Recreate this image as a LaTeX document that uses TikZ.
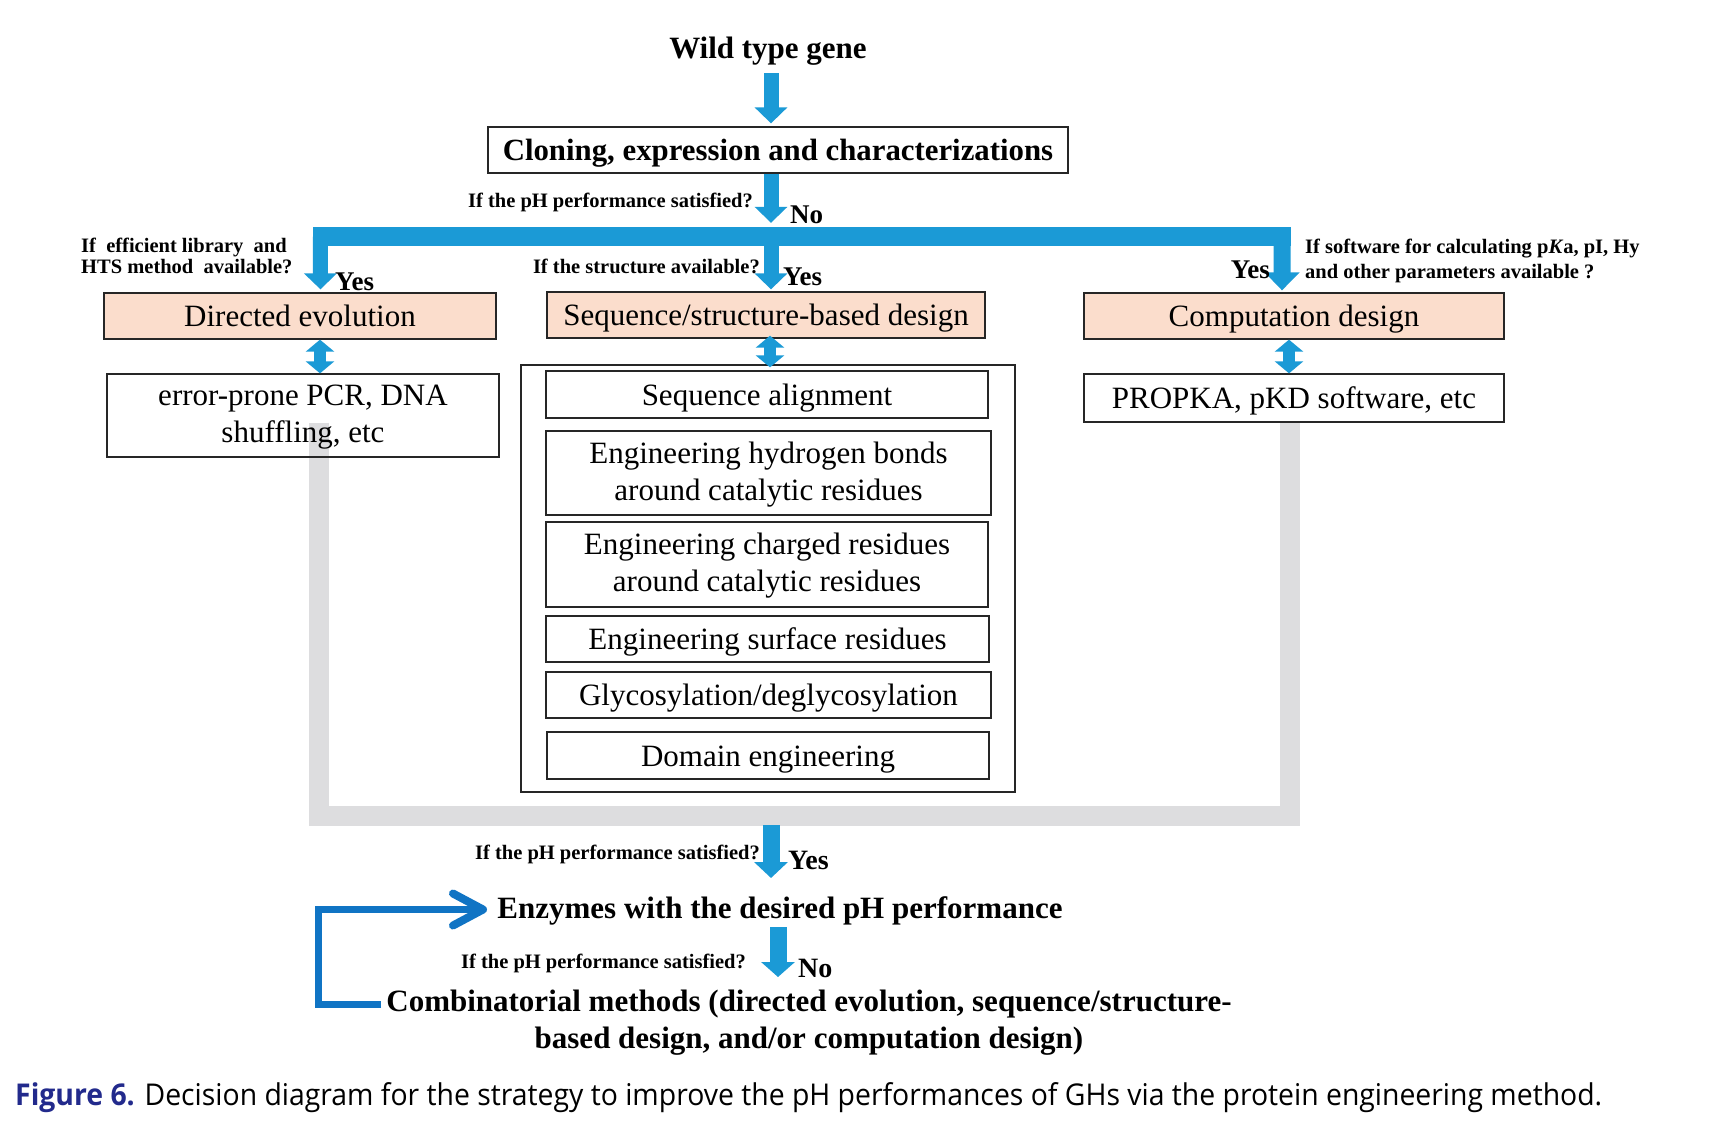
\documentclass[tikz,border=0pt]{standalone}
\usepackage{fontspec}
\usepackage{graphicx}
\setmainfont{Liberation Serif}
\newfontfamily\capfont{Open Sans}
\usetikzlibrary{arrows.meta,backgrounds}
\definecolor{bblue}{RGB}{27,154,214}
\definecolor{dblue}{RGB}{16,116,196}
\definecolor{peach}{RGB}{251,221,204}
\definecolor{lgray}{RGB}{221,221,223}
\definecolor{capblue}{RGB}{34,42,140}
\newcommand{\fstrut}{\rule{0pt}{24pt}}
\tikzset{
  bx/.style={draw=black!85, line width=1.3pt, inner sep=0pt, align=center, font=\fontsize{31}{37}\selectfont},
  sl/.style={text height=21pt, text depth=0pt},
  blk/.style={draw=bblue, line width=15pt, -{Triangle[width=32pt,length=16pt]}},
  dbl/.style={draw=bblue, line width=12pt, {Triangle[width=28pt,length=12pt]}-{Triangle[width=28pt,length=12pt]}},
  q/.style={inner sep=0pt, font=\fontsize{20.5}{21}\selectfont\bfseries},
  yn/.style={inner sep=0pt, font=\fontsize{27}{30}\selectfont\bfseries},
  big/.style={inner sep=0pt, font=\fontsize{31}{37}\selectfont\bfseries},
}
\begin{document}
\begin{tikzpicture}[x=1pt,y=-1pt,line join=miter]
\useasboundingbox (0,0) rectangle (1718,1130);

% boxes
\node[big, anchor=base] (wild) at (768,58) {Wild type gene};
\node[bx, sl, font=\fontsize{30.8}{37}\selectfont\bfseries, minimum width=580pt, minimum height=46pt] (clone) at (778,150) {Cloning, expression and characterizations};
\node[bx, sl, fill=peach, minimum width=392pt, minimum height=46pt] (dir) at (300,316) {Directed evolution};
\node[bx, sl, fill=peach, minimum width=438pt, minimum height=46pt] (seq) at (766,315) {Sequence/structure-based design};
\node[bx, sl, fill=peach, minimum width=420pt, minimum height=46pt] (comp) at (1294,316) {Computation design};
\node[bx, minimum width=392pt, minimum height=83pt] (err) at (303,415.5) {\fstrut error-prone PCR, DNA\\shuffling, etc};
\node[bx, sl, fill=white, minimum width=420pt, minimum height=48pt] (prop) at (1294,398) {PROPKA, pKD software, etc};
\node[bx, minimum width=494pt, minimum height=427pt] (cont) at (768,578.5) {};
\node[bx, sl, minimum width=442pt, minimum height=47pt] (sal) at (767,394.5) {Sequence alignment};
\node[bx, minimum width=445pt, minimum height=84pt] (hyd) at (768.5,473) {\fstrut Engineering hydrogen bonds\\around catalytic residues};
\node[bx, minimum width=442pt, minimum height=85pt] (chg) at (767,564.5) {\fstrut Engineering charged residues\\around catalytic residues};
\node[bx, sl, minimum width=443pt, minimum height=46pt] (surf) at (767.5,639) {Engineering surface residues};
\node[bx, sl, minimum width=445pt, minimum height=46pt] (gly) at (768.5,695) {Glycosylation/deglycosylation};
\node[bx, sl, minimum width=442pt, minimum height=47pt] (dom) at (768,755.5) {Domain engineering};

% distribution bar
\node[fill=bblue, inner sep=0pt, minimum width=978pt, minimum height=19pt] (bar) at (802,236.5) {};

% block arrows
\coordinate (a1) at (771,73);
\draw[blk] (a1) -- ([xshift=-7pt,yshift=3pt]clone.north);
\draw[blk] ([xshift=-7pt]clone.south) -- ([xshift=-31pt,yshift=4pt]bar.north);
\draw[blk] ([xshift=-31pt,yshift=1pt]bar.south) -- ([xshift=5pt,yshift=2pt]seq.north);
\draw[blk] ([xshift=7.5pt]bar.west) -- ([xshift=20.5pt,yshift=3pt]dir.north);
\draw[blk, line width=17pt, -{Triangle[width=34pt,length=18pt]}] ([xshift=-9pt]bar.east) -- ([xshift=-12pt,yshift=2pt]comp.north);

% double arrows
\draw[dbl] ([xshift=20pt]dir.south) -- ([xshift=17pt]err.north);
\draw[dbl] ([xshift=4pt,yshift=3pt]seq.south) -- ([xshift=2pt,yshift=-3pt]cont.north);
\draw[dbl] ([xshift=-5pt]comp.south) -- ([xshift=-5pt]prop.north);

% labels
\node[q, anchor=base east] (q1) at (753,207) {If the pH performance satisfied?};
\node[yn, anchor=base west] (no1) at (790,223) {No};
\node[q, anchor=base west] (q2a) at (81,252) {If\ \ efficient library\ \ and};
\node[q, anchor=base west] (q2b) at (81,273) {HTS method\ \ available?};
\node[yn, anchor=base west] (y1) at (335,290) {Yes};
\node[q, anchor=base east] (q3) at (760,273) {If the structure available?};
\node[yn, anchor=base west] (y2) at (783,285) {Yes};
\node[yn, anchor=base east] (y3) at (1270,278) {Yes};
\node[q, anchor=base west] (q4a) at (1305,253) {If software for calculating p\textit{K}a, pI, Hy};
\node[q, anchor=base west] (q4b) at (1305,278) {and other parameters available ?};

% bottom part
\coordinate (a3s) at (771,825);
\coordinate (a3e) at (771,878);
\draw[blk, line width=17pt, -{Triangle[width=33pt,length=16pt]}] (a3s) -- (a3e);
\node[q, anchor=base east] (q5) at (760,859) {If the pH performance satisfied?};
\node[yn, font=\fontsize{28}{30}\selectfont\bfseries, anchor=base west] (y4) at (788,869) {Yes};
\node[big, anchor=base] (enz) at (780,918) {Enzymes with the desired pH performance};
\coordinate (a4s) at (778,927);
\coordinate (a4e) at (778,977);
\draw[blk, line width=17pt, -{Triangle[width=33pt,length=15pt]}] (a4s) -- (a4e);
\node[q, anchor=base east] (q6) at (746,968) {If the pH performance satisfied?};
\node[yn, font=\fontsize{28}{30}\selectfont\bfseries, anchor=base west] (no2) at (798,977) {No};
\node[big, anchor=base] (comb1) at (809,1011) {Combinatorial methods (directed evolution, sequence/structure-};
\node[big, anchor=base] (comb2) at (809,1048) {based design, and/or computation design)};
\coordinate (bs) at (381,1004);
\coordinate (be) at (487,909.5);
\draw[dblue, line width=7pt, -{Straight Barb[round,length=30pt,width=32pt,line width=8pt]}] (bs) -- (318.5,1004) -- (318.5,909.5) -- (be);

% caption
\node[anchor=base west, inner sep=0pt] (cap) at (15,1105) {\resizebox{1587pt}{\height}{\capfont\fontsize{30}{33}\selectfont\textcolor{capblue}{\bfseries Figure 6.} Decision diagram for the strategy to improve the pH performances of GHs via the protein engineering method.}};

% background: grey feedback loop
\begin{scope}[on background layer]
  \fill[white] (0,0) rectangle (1718,1130);
  \draw[lgray, line width=20pt] ([xshift=16pt,yshift=35pt]err.south) |- ([yshift=-23pt]cont.south) -| ([xshift=-4pt]prop.south);
\end{scope}
\end{tikzpicture}
\end{document}
